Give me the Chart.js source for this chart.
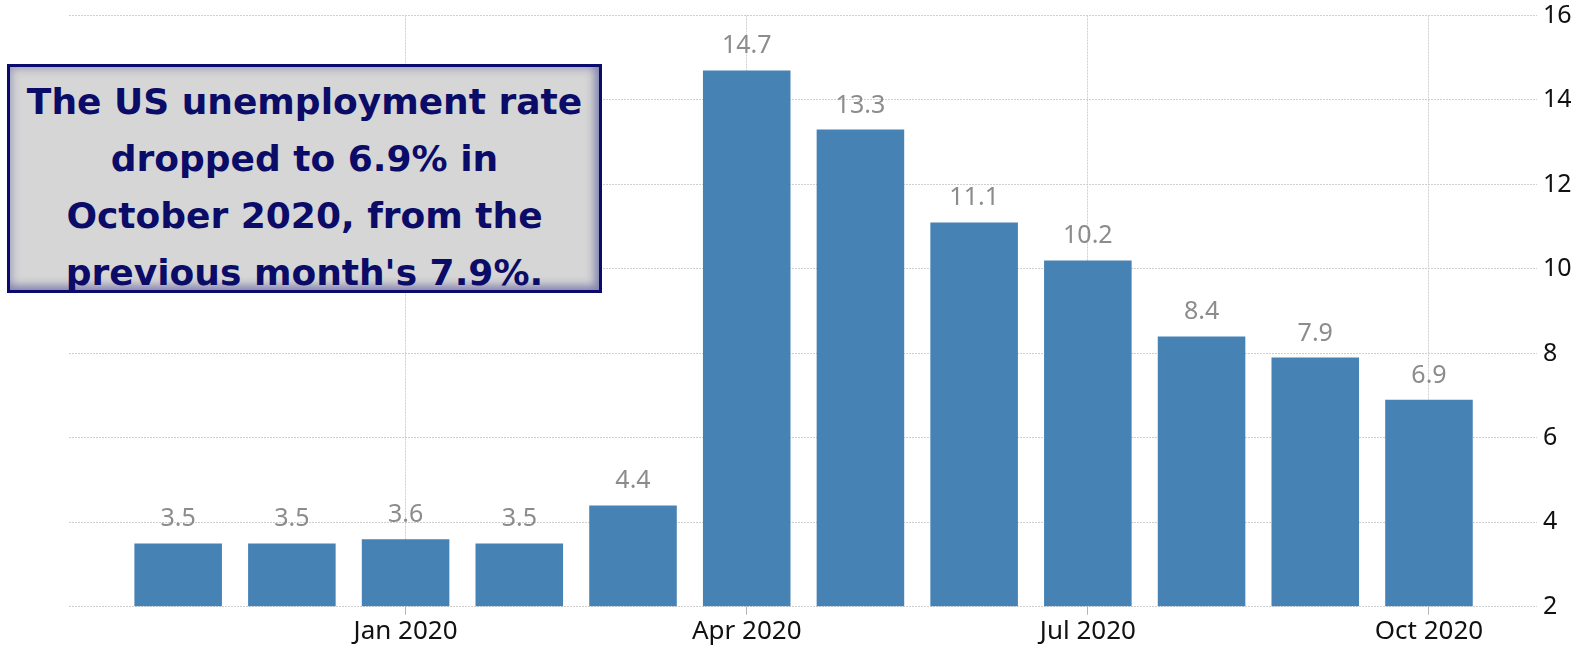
<!DOCTYPE html>
<html lang="en">
<head>
<meta charset="utf-8">
<title>US Unemployment Rate</title>
<script src="https://cdn.jsdelivr.net/npm/chart.js@4/dist/chart.umd.min.js"></script>
<style>
    html, body { margin: 0; padding: 0; background: #fff; }
    #wrap { position: relative; width: 1579px; height: 648px; overflow: hidden; }
    #chart { position: absolute; left: 0; top: 0; }
    .callout {
        position: absolute;
        left: 7px;
        top: 64px;
        width: 595px;
        height: 229px;
        box-sizing: border-box;
        padding-top: 16px;
        border: 3px solid #0b0b6e;
        background: #d6d6d6;
        box-shadow: inset 0 0 9px 2px rgba(70, 70, 150, 0.35), inset -5px -5px 9px rgba(60, 60, 140, 0.35);
        display: flex;
        align-items: center;
        justify-content: center;
        text-align: center;
        font: bold 36px "DejaVu Sans", sans-serif;
        line-height: 57px;
        color: #0b0b68;
    }
</style>
</head>
<body>
<div id="wrap">
    <canvas id="chart" width="1579" height="648"></canvas>
    <div class="callout">The US unemployment rate<br>dropped to 6.9% in<br>October 2020, from the<br>previous month's 7.9%.</div>
</div>
<script>
// Monthly unemployment rate, Nov 2019 - Oct 2020 (%)
const months = ['Nov 2019', 'Dec 2019', 'Jan 2020', 'Feb 2020', 'Mar 2020', 'Apr 2020',
    'May 2020', 'Jun 2020', 'Jul 2020', 'Aug 2020', 'Sep 2020', 'Oct 2020'];
const rates = [3.5, 3.5, 3.6, 3.5, 4.4, 14.7, 13.3, 11.1, 10.2, 8.4, 7.9, 6.9];

// Only every third month gets a label on the x axis
const labelledMonths = ['Jan 2020', 'Apr 2020', 'Jul 2020', 'Oct 2020'];

// Y axis range
const yMin = 2;
const yMax = 16;
const yStep = 2;

const colors = {
    bar: '#4682b4',
    grid: '#cfcfcf',
    tick: '#b5b5b5',
    valueLabel: '#8c8c8c',
    axisText: '#111111'
};

// Draw the value above every bar
const valueLabels = {
    id: 'valueLabels',
    afterDatasetsDraw: (chart) => {
        const { ctx } = chart;
        const meta = chart.getDatasetMeta(0);
        ctx.save();
        ctx.font = '25px "Noto Sans", sans-serif';
        ctx.fillStyle = colors.valueLabel;
        ctx.textAlign = 'center';
        ctx.textBaseline = 'alphabetic';
        meta.data.forEach((bar, i) => {
            ctx.fillText(rates[i].toFixed(1), bar.x, bar.y - 17);
        });
        ctx.restore();
    }
};

const createBarChart = ({ canvasId }) => {
    const canvas = document.getElementById(canvasId);
    if (!canvas) {
        console.error(`Canvas not found: ${canvasId}`);
        return null;
    }

    const tickIndexes = labelledMonths.map(m => months.indexOf(m));

    return new Chart(canvas, {
        type: 'bar',
        data: {
            datasets: [{
                label: 'Unemployment rate',
                data: rates.map((v, i) => ({ x: i, y: v })),
                backgroundColor: colors.bar,
                borderWidth: 0,
                base: yMin,
                barPercentage: 0.77,
                categoryPercentage: 1
            }]
        },
        options: {
            responsive: false,
            animation: false,
            devicePixelRatio: 1,
            events: [],
            layout: { padding: { left: 69, right: 8, top: 0, bottom: 0 } },
            plugins: {
                legend: { display: false },
                tooltip: { enabled: false }
            },
            scales: {
                x: {
                    type: 'linear',
                    min: -0.96,
                    max: 11.95,
                    offset: false,
                    afterBuildTicks: (scale) => {
                        scale.ticks = tickIndexes.map(v => ({ value: v }));
                    },
                    grid: {
                        offset: false,
                        color: colors.grid,
                        lineWidth: 1,
                        drawTicks: true,
                        tickLength: 8,
                        tickColor: colors.tick
                    },
                    border: { display: false, dash: [2, 1] },
                    ticks: {
                        autoSkip: false,
                        maxRotation: 0,
                        padding: 1,
                        color: colors.axisText,
                        font: { family: '"Noto Sans", sans-serif', size: 26 },
                        callback: (value) => months[value] || ''
                    }
                },
                y: {
                    position: 'right',
                    min: yMin,
                    max: yMax,
                    afterFit: (scale) => {
                        scale.width = 34;
                        scale.paddingTop = 15.5;
                    },
                    grid: {
                        color: colors.grid,
                        lineWidth: 1,
                        drawTicks: false
                    },
                    border: { display: false, dash: [2, 1] },
                    ticks: {
                        stepSize: yStep,
                        padding: 6,
                        color: colors.axisText,
                        font: { family: '"Noto Sans", sans-serif', size: 25 }
                    }
                }
            }
        },
        plugins: [valueLabels]
    });
};

createBarChart({ canvasId: 'chart' });
</script>
</body>
</html>
